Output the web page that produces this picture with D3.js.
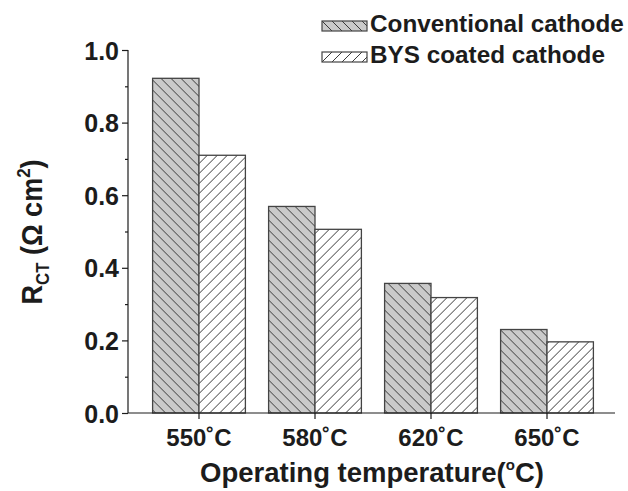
<!DOCTYPE html>
<html>
<head>
<meta charset="utf-8">
<script src="https://cdn.jsdelivr.net/npm/d3@7"></script>
<style>
  html, body { margin: 0; padding: 0; background: #fff; }
  svg { display: block; font-family: "Liberation Sans", Arial, sans-serif; font-weight: bold; }
</style>
</head>
<body>
<svg id="chart" width="628" height="491"></svg>
<script>
// Charge-transfer resistance by operating temperature
const categories = ["550˚C", "580˚C", "620˚C", "650˚C"];
const seriesNames = ["Conventional cathode", "BYS coated cathode"];
const conventional = [0.922, 0.569, 0.357, 0.230];
const bysCoated = [0.710, 0.506, 0.318, 0.196];
const yTicks = [0.0, 0.2, 0.4, 0.6, 0.8, 1.0];
const yMinorTicks = [0.1, 0.3, 0.5, 0.7, 0.9];

const svg = d3.select("#chart");
const ink = "#1c1c1c";

// Hatch patterns
const defs = svg.append("defs");
function hatch(id, fill, dir) {
  const p = defs.append("pattern")
    .attr("id", id).attr("patternUnits", "userSpaceOnUse")
    .attr("width", 10).attr("height", 10);
  p.append("rect").attr("width", 10).attr("height", 10).attr("fill", fill);
  const segs = dir === "down"
    ? [[-1, -1, 11, 11], [-6, 4, 6, 16], [4, -6, 16, 6]]
    : [[-1, 11, 11, -1], [-6, 6, 6, -6], [4, 16, 16, 4]];
  segs.forEach(s => p.append("line")
    .attr("x1", s[0]).attr("y1", s[1]).attr("x2", s[2]).attr("y2", s[3])
    .attr("stroke", "#3a3a3a").attr("stroke-width", 1));
}
hatch("hatchConv", "#cacaca", "down");
hatch("hatchBys", "#ffffff", "up");

const axisLeft = 128, axisRight = 615, axisBottom = 413;

const y = d3.scaleLinear().domain([0, 1]).range([axisBottom, 50]);
const x = d3.scaleBand().domain(categories).range([141, 605]).paddingInner(0.2).paddingOuter(0.1);
const xs = d3.scaleBand().domain(seriesNames).range([0, x.bandwidth()]);

const groups = svg.append("g").selectAll("g")
  .data(categories).join("g")
  .attr("transform", d => `translate(${x(d)},0)`);

const fills = ["url(#hatchConv)", "url(#hatchBys)"];
groups.selectAll("rect")
  .data((d, i) => [conventional[i], bysCoated[i]].map((v, k) => ({ v, k })))
  .join("rect")
  .attr("x", d => xs(seriesNames[d.k]))
  .attr("y", d => y(d.v))
  .attr("width", xs.bandwidth())
  .attr("height", d => axisBottom - y(d.v))
  .attr("fill", d => fills[d.k])
  .attr("stroke", "#444")
  .attr("stroke-width", 1.3);

// Y axis
const yAxis = svg.append("g").attr("class", "yaxis").attr("transform", `translate(${axisLeft},0)`)
  .call(d3.axisLeft(y).tickValues(yTicks).tickFormat(d3.format(".1f")).tickSize(6).tickPadding(3));
yAxis.select(".domain").remove();
svg.append("g").attr("transform", `translate(${axisLeft},0)`)
  .call(d3.axisLeft(y).tickValues(yMinorTicks).tickFormat("").tickSize(3))
  .select(".domain").remove();
svg.append("line").attr("x1", axisLeft).attr("x2", axisLeft)
  .attr("y1", y(1)).attr("y2", axisBottom).attr("stroke", ink).attr("stroke-width", 1.2);

// X axis
const xAxis = svg.append("g").attr("class", "xaxis").attr("transform", `translate(0,${axisBottom})`)
  .call(d3.axisBottom(x).tickSize(6).tickPadding(10));
xAxis.select(".domain").remove();
svg.append("line").attr("x1", axisLeft).attr("x2", axisRight)
  .attr("y1", axisBottom).attr("y2", axisBottom).attr("stroke", ink).attr("stroke-width", 1.2);

svg.selectAll(".tick line").attr("stroke", ink).attr("stroke-width", 1.2);
svg.selectAll(".tick text").attr("fill", ink)
  .style("font-family", "'Liberation Sans', Arial, sans-serif")
  .style("font-weight", "bold");
yAxis.selectAll(".tick text").style("font-size", "25px").attr("dy", "0.36em");
xAxis.selectAll(".tick text").style("font-size", "24px");

// Axis titles
const xt = svg.append("text").attr("x", 372).attr("y", 482)
  .attr("text-anchor", "middle").attr("fill", ink).style("font-size", "27.5px");
xt.append("tspan").text("Operating temperature(");
xt.append("tspan").attr("dy", -12).style("font-size", "15px").text("o");
xt.append("tspan").attr("dy", 12).text("C)");

const yt = svg.append("text")
  .attr("transform", "translate(42,232) rotate(-90)")
  .attr("text-anchor", "middle").attr("fill", ink).style("font-size", "29px")
  .attr("textLength", 145).attr("lengthAdjust", "spacingAndGlyphs");
yt.append("tspan").text("R");
yt.append("tspan").attr("dy", 7).style("font-size", "18px").text("CT");
yt.append("tspan").attr("dy", -7).text(" (Ω cm");
yt.append("tspan").attr("dy", -12).style("font-size", "18px").text("2");
yt.append("tspan").attr("dy", 12).text(")");

// Legend
const legend = svg.append("g").selectAll("g")
  .data(seriesNames).join("g")
  .attr("transform", (d, i) => `translate(322,${21 + i * 31})`);
legend.append("rect").attr("width", 45).attr("height", 10)
  .attr("fill", (d, i) => fills[i]).attr("stroke", "#444").attr("stroke-width", 1.2);
legend.append("text").attr("x", 48).attr("y", 11)
  .attr("fill", ink).style("font-size", "24.3px").text(d => d);
</script>
</body>
</html>
